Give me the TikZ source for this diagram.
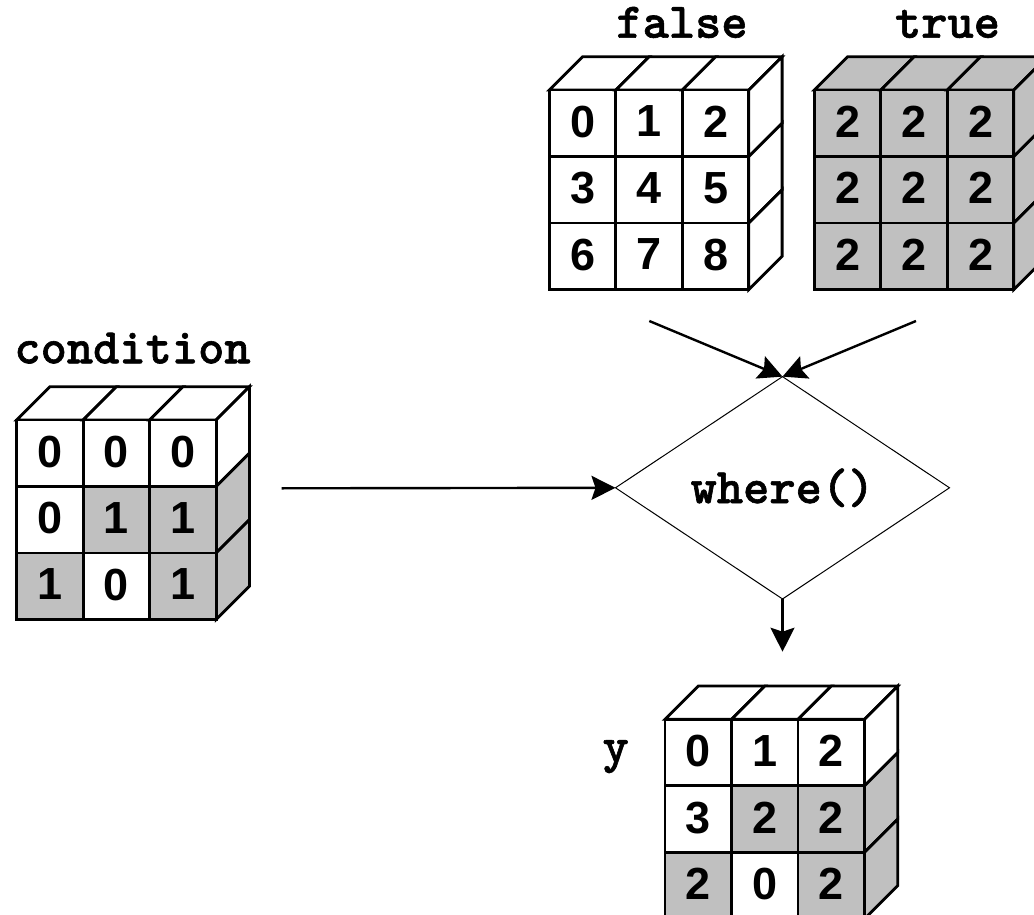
\documentclass[tikz,border=0pt]{standalone}
\usepackage{fontspec}
\newfontfamily\digitfont{Liberation Sans}
\newfontfamily\codefont{lmmonolt10-bold}[Extension=.otf, FakeBold=1.2]
\usetikzlibrary{arrows.meta,shapes.geometric}

\definecolor{cellgray}{RGB}{192,192,192}

% cell edge and depth offset of the drawn arrays
\newcommand\cubeS{66.5}
\newcommand\cubeD{33.3}

\tikzset{
  face/.style={draw=black, line width=2.8pt},
  cell/.style={draw=black, line width=2.8pt, minimum size=66.5pt, inner sep=0pt,
    outer sep=0pt, text depth=3.5pt,
    font=\digitfont\bfseries\fontsize{45}{45}\selectfont},
  codelabel/.style={inner sep=0pt, anchor=base,
    font=\codefont\fontsize{50}{50}\selectfont},
  decision/.style={diamond, draw=black, line width=1pt, minimum width=334pt,
    minimum height=199pt, inner sep=0pt, outer sep=0pt,
    font=\codefont\fontsize{50}{50}\selectfont},
  flow/.style={line width=2.4pt, -{Stealth[length=24pt, width=24pt, inset=4pt]}},
}

% 3x3 array drawn as a block: #1 name, #2/#3 front top-left corner, #4 value/fill list
\newcommand\numcube[4]{%
  \foreach \v/\f [count=\k from 0] in {#4} {
    \pgfmathtruncatemacro\row{\k/3}
    \pgfmathtruncatemacro\col{mod(\k,3)}
    \ifnum\row=0
      \filldraw[face, fill=\f] ({#2+\col*\cubeS},#3) -- ++(\cubeD,-\cubeD)
        -- ++(\cubeS,0) -- ++(-\cubeD,\cubeD) -- cycle;
    \fi
    \ifnum\col=2
      \filldraw[face, fill=\f] ({#2+3*\cubeS},{#3+\row*\cubeS}) -- ++(\cubeD,-\cubeD)
        -- ++(0,\cubeS) -- ++(-\cubeD,\cubeD) -- cycle;
    \fi
    \node[cell, fill=\f] (#1-\k) at ({#2+(\col+0.5)*\cubeS},{#3+(\row+0.5)*\cubeS}) {\v};
  }%
}

\begin{document}
\begin{tikzpicture}[x=1pt, y=-1pt]
  \useasboundingbox (0,0) rectangle (1034,915);
  \clip (0,0) rectangle (1034,915);

  % input and output arrays
  \numcube{false}{549.3}{90}{0/white,1/white,2/white,3/white,4/white,5/white,6/white,7/white,8/white}
  \numcube{true}{814.3}{90}{2/cellgray,2/cellgray,2/cellgray,2/cellgray,2/cellgray,2/cellgray,2/cellgray,2/cellgray,2/cellgray}
  \numcube{cond}{16.7}{420}{0/white,0/white,0/white,0/white,1/cellgray,1/cellgray,1/cellgray,0/white,1/cellgray}
  \numcube{y}{665}{719.3}{0/white,1/white,2/white,3/white,2/cellgray,2/cellgray,2/cellgray,0/white,2/cellgray}

  % array names
  \node[codelabel] (falselabel) at (682,37.7) {false};
  \node[codelabel] (truelabel) at (947.5,37.7) {true};
  \node[codelabel] (condlabel) at (132.5,363.3) {condition};
  \node[codelabel] (ylabel) at (615.7,762) {y};

  % the selection step
  \node[decision] (where) at (782.5,487.8) {where()};

  \coordinate (fromfalse) at (649.3,321);
  \coordinate (fromtrue) at (916,321);
  \coordinate (fromcond) at (281.7,488.3);
  \coordinate (toy) at (782.5,651.7);

  \draw[flow] (fromfalse) -- (where.north);
  \draw[flow] (fromtrue) -- (where.north);
  \draw[flow] (fromcond) -- (where.west);
  \draw[flow] (where.south) -- (toy);
\end{tikzpicture}
\end{document}
